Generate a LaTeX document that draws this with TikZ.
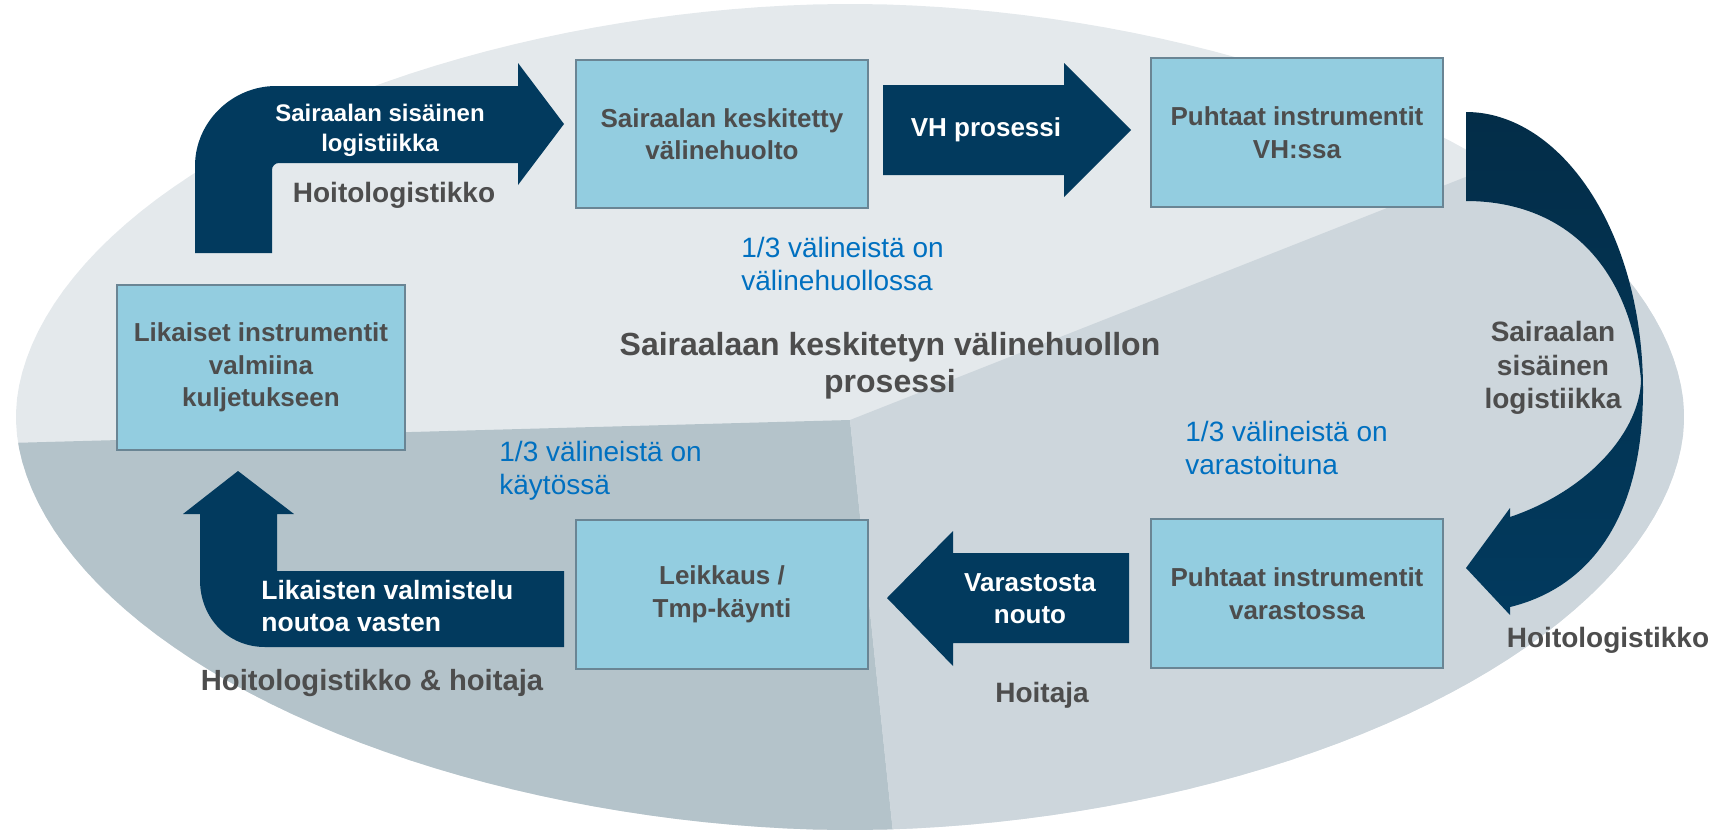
\documentclass[tikz,border=0pt]{standalone}
\usepackage{fontspec}
\setmainfont{Liberation Sans}
\definecolor{topc}{HTML}{E4E9EC}
\definecolor{blc}{HTML}{B4C3CA}
\definecolor{brc}{HTML}{CDD6DC}
\definecolor{navy}{HTML}{023A5E}
\definecolor{navydk}{HTML}{032D48}
\definecolor{boxfill}{HTML}{93CDE0}
\definecolor{boxline}{HTML}{6A8594}
\definecolor{txtgray}{HTML}{4D4D4D}
\definecolor{bluetxt}{HTML}{0070C0}
\begin{document}
\begin{tikzpicture}[x=0.5pt,y=-0.5pt,
 box/.style={draw=boxline, line width=1pt, fill=boxfill, align=center, text=txtgray, font=\fontsize{13}{16.25}\selectfont\bfseries, inner sep=0pt},
 navyshape/.style={fill=navy},
 whitetxt/.style={text=white, font=\fontsize{13}{16}\selectfont\bfseries, align=center, inner sep=0pt},
 graylbl/.style={text=txtgray, font=\fontsize{14}{16.75}\selectfont\bfseries, align=center, inner sep=0pt},
 bluelbl/.style={text=bluetxt, font=\fontsize{14}{16.5}\selectfont, align=left, anchor=west, inner sep=0pt},
]
\useasboundingbox (0,0) rectangle (1736,830);
% background oval with three sectors
\begin{scope}
\clip plot[domain=1:359, samples=180, variable=\t]
  ({850+834*cos(\t)*pow(abs(cos(\t)),0.0526)}, {417+413*sin(\t)*pow(abs(sin(\t)),0.0526)}) -- cycle;
\fill[topc] (-10,-10) rectangle (1746,840);
\fill[blc] (-100,446) -- (850,420) -- (900,900) -- (-100,900) -- cycle;
\fill[brc] (850,420) -- (1800,45) -- (1800,900) -- (900,900) -- cycle;
\end{scope}
% arrow A (top-left bent)
\fill[navyshape] (195,253) -- (195,166) .. controls (195,122) and (232,86) .. (276,86) -- (518,86) -- (518,63) -- (564,124) -- (518,185) -- (518,163) -- (279,163) .. controls (275,163) and (272,166) .. (272,170) -- (272,253) -- cycle;
% arrow B (VH prosessi)
\fill[navyshape] (883,85) -- (1064,85) -- (1064,63) -- (1131,130) -- (1064,197) -- (1064,175) -- (883,175) -- cycle;
% arrow C (right curved)
\shade[top color=navydk, bottom color=navy] (1466,112) .. controls (1560,112) and (1643,230) .. (1643,390) .. controls (1643,530) and (1580,590) .. (1510,607) -- (1510,615) -- (1466,568) -- (1510,508) -- (1510,517) .. controls (1590,490) and (1640,430) .. (1641,380) .. controls (1630,260) and (1560,201) .. (1466,201) -- cycle;
% arrow D (Varastosta nouto)
\fill[navyshape] (1129,553) -- (953,553) -- (953,531) -- (887,598) -- (953,666) -- (953,643) -- (1129,643) -- cycle;
% arrow E (bottom-left bent)
\fill[navyshape] (564,571) -- (564,647) -- (265,647) .. controls (228,647) and (200,618) .. (200,580) -- (200,514) -- (183,514) -- (238,471) -- (294,514) -- (277,514) -- (277,571) -- cycle;
% boxes
\node[box, minimum width=146pt, minimum height=74pt] (b1) at (722,134) {Sairaalan keskitetty\\välinehuolto};
\node[box, minimum width=146pt, minimum height=74.5pt] (b2) at (1297,132.5) {Puhtaat instrumentit\\VH:ssa};
\node[box, minimum width=144pt, minimum height=82.5pt] (b3) at (261,367.5) {Likaiset instrumentit\\valmiina\\kuljetukseen};
\node[box, minimum width=146pt, minimum height=74.5pt] (b4) at (722,594.5) {Leikkaus /\\Tmp-käynti};
\node[box, minimum width=146pt, minimum height=74.5pt] (b5) at (1297,593.5) {Puhtaat instrumentit\\varastossa};
% arrow texts
\node[whitetxt, font=\fontsize{12}{15}\selectfont\bfseries] (tA) at (380,130) {Sairaalan sisäinen\\logistiikka};
\node[graylbl] (hA) at (394,195) {Hoitologistikko};
\node[whitetxt] (tB) at (986,130) {VH prosessi};
\node[graylbl] (tC) at (1553,368) {Sairaalan\\sisäinen\\logistiikka};
\node[graylbl] (hC) at (1608,640) {Hoitologistikko};
\node[whitetxt] (tD) at (1030,599) {Varastosta\\nouto};
\node[graylbl] (hD) at (1042,695) {Hoitaja};
\node[whitetxt, font=\fontsize{13.25}{16}\selectfont\bfseries, align=left, anchor=west] (tE) at (261,606) {Likaisten valmistelu\\noutoa vasten};
\node[graylbl, font=\fontsize{14.6}{17}\selectfont\bfseries] (hE) at (372,683) {Hoitologistikko \& hoitaja};
% title
\node[graylbl, font=\fontsize{16}{18.5}\selectfont\bfseries] (title) at (890,366) {Sairaalaan keskitetyn välinehuollon\\prosessi};
% blue notes
\node[bluelbl] (p1) at (741,263.5) {1/3 välineistä on\\välinehuollossa};
\node[bluelbl] (p2) at (499,471) {1/3 välineistä on\\käytössä};
\node[bluelbl] (p3) at (1185,448) {1/3 välineistä on\\varastoituna};
\end{tikzpicture}
\end{document}
